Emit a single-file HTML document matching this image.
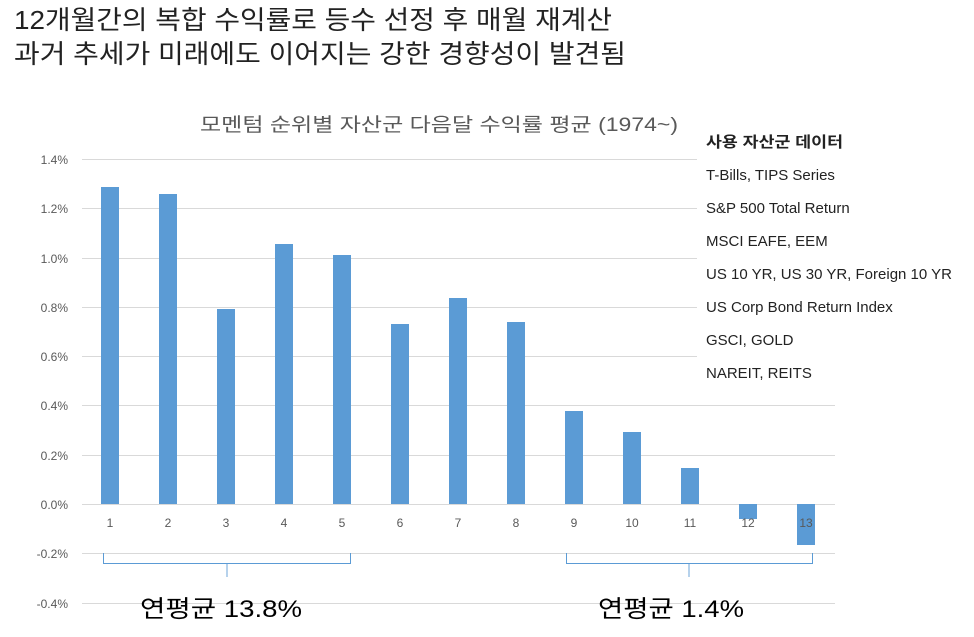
<!DOCTYPE html>
<html><head><meta charset="utf-8"><style>
body{margin:0;background:#fff;}
svg text{font-family:"Liberation Sans","Noto Sans CJK KR",sans-serif;}
</style></head><body>
<svg width="974" height="632" xmlns="http://www.w3.org/2000/svg">
<rect width="974" height="632" fill="#fff"/>
<text x="14" y="29" font-size="26" fill="#222" textLength="598" lengthAdjust="spacingAndGlyphs">12개월간의 복합 수익률로 등수 선정 후 매월 재계산</text>
<text x="14" y="63" font-size="26" fill="#222" textLength="612" lengthAdjust="spacingAndGlyphs">과거 추세가 미래에도 이어지는 강한 경향성이 발견됨</text>
<text x="200" y="131" font-size="19" fill="#595959" textLength="478" lengthAdjust="spacingAndGlyphs">모멘텀 순위별 자산군 다음달 수익률 평균 (1974~)</text>
<g stroke="#d9d9d9" stroke-width="1">
<line x1="82" x2="835" y1="159.5" y2="159.5"/>
<line x1="82" x2="835" y1="208.5" y2="208.5"/>
<line x1="82" x2="835" y1="258.5" y2="258.5"/>
<line x1="82" x2="835" y1="307.5" y2="307.5"/>
<line x1="82" x2="835" y1="356.5" y2="356.5"/>
<line x1="82" x2="835" y1="405.5" y2="405.5"/>
<line x1="82" x2="835" y1="455.5" y2="455.5"/>
<line x1="82" x2="835" y1="504.5" y2="504.5"/>
<line x1="82" x2="835" y1="553.5" y2="553.5"/>
<line x1="82" x2="835" y1="603.5" y2="603.5"/>
</g>
<g font-size="12" fill="#595959" text-anchor="end">
<text x="68" y="164">1.4%</text><text x="68" y="213">1.2%</text><text x="68" y="263">1.0%</text>
<text x="68" y="312">0.8%</text><text x="68" y="361">0.6%</text><text x="68" y="410">0.4%</text>
<text x="68" y="460">0.2%</text><text x="68" y="509">0.0%</text><text x="68" y="558">-0.2%</text>
<text x="68" y="608">-0.4%</text>
</g>
<g fill="#5b9bd5">
<rect x="101" y="187" width="18" height="317"/>
<rect x="159" y="194" width="18" height="310"/>
<rect x="217" y="309" width="18" height="195"/>
<rect x="275" y="244" width="18" height="260"/>
<rect x="333" y="255" width="18" height="249"/>
<rect x="391" y="324" width="18" height="180"/>
<rect x="449" y="298" width="18" height="206"/>
<rect x="507" y="322" width="18" height="182"/>
<rect x="565" y="411" width="18" height="93"/>
<rect x="623" y="432" width="18" height="72"/>
<rect x="681" y="468" width="18" height="36"/>
<rect x="739" y="504" width="18" height="15"/>
<rect x="797" y="504" width="18" height="41"/>
</g>
<g font-size="12" fill="#595959" text-anchor="middle">
<text x="110" y="527">1</text><text x="168" y="527">2</text><text x="226" y="527">3</text>
<text x="284" y="527">4</text><text x="342" y="527">5</text><text x="400" y="527">6</text>
<text x="458" y="527">7</text><text x="516" y="527">8</text><text x="574" y="527">9</text>
<text x="632" y="527">10</text><text x="690" y="527">11</text><text x="748" y="527">12</text>
<text x="806" y="527">13</text>
</g>
<g fill="none" stroke="#5b9bd5" stroke-width="1">
<path d="M103.5 553V563.5H350.5V553"/>
<path d="M566.5 553V563.5H812.5V553"/>
</g>
<g stroke="#9dc3e6" stroke-width="1.5">
<line x1="227" y1="564" x2="227" y2="577"/>
<line x1="689" y1="564" x2="689" y2="577"/>
</g>
<text x="140" y="617" font-size="24" fill="#000" textLength="162" lengthAdjust="spacingAndGlyphs">연평균 13.8%</text>
<text x="598" y="617" font-size="24" fill="#000" textLength="146" lengthAdjust="spacingAndGlyphs">연평균 1.4%</text>
<rect x="697" y="130" width="277" height="260" fill="#fff"/>
<g font-size="15" fill="#222">
<text x="706" y="147" font-weight="bold" textLength="137" lengthAdjust="spacingAndGlyphs">사용 자산군 데이터</text>
<text x="706" y="180">T-Bills, TIPS Series</text>
<text x="706" y="213">S&amp;P 500 Total Return</text>
<text x="706" y="246">MSCI EAFE, EEM</text>
<text x="706" y="279">US 10 YR, US 30 YR, Foreign 10 YR</text>
<text x="706" y="312">US Corp Bond Return Index</text>
<text x="706" y="345">GSCI, GOLD</text>
<text x="706" y="378">NAREIT, REITS</text>
</g>
</svg>
</body></html>
